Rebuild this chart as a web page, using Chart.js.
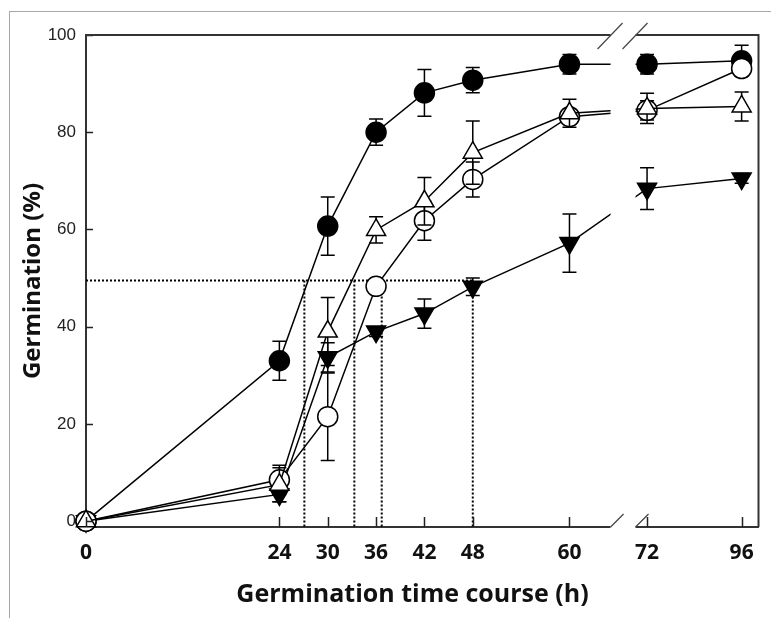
<!DOCTYPE html>
<html>
<head>
<meta charset="utf-8">
<script src="https://cdn.jsdelivr.net/npm/chart.js@4.4.0/dist/chart.umd.min.js"></script>
<style>
  html, body { margin: 0; padding: 0; background: #fff; }
  #wrap { position: relative; width: 771px; height: 618px; overflow: hidden; }
  #frame { position: absolute; left: 9px; top: 11px; width: 800px; height: 700px;
           border-left: 1px solid #a8a8a8; border-top: 1px solid #a8a8a8; }
  #germChart { position: absolute; left: 0; top: 0; }
</style>
</head>
<body>
<div id="wrap">
  <div id="frame"></div>
  <canvas id="germChart" width="771" height="618"></canvas>
</div>
<script>
// sampling times (h) and tick labels
const hours = [0, 24, 30, 36, 42, 48, 60, 72, 96];
const tickHours = [0, 24, 30, 36, 42, 48, 60, 72, 96];
const tickLabels = ['0', '24', '30', '36', '42', '48', '60', '72', '96'];
const yTicks = [0, 20, 40, 60, 80, 100];

// germination (%) and error bars, one pair per marker type
const filledCircle = [0, 33, 60.7, 80, 88.1, 90.7, 94, 94, 94.7];
const filledCircleErr = [0, 4, 6, 2.7, 4.8, 2.6, 2, 2, 3.2];
const openCircle = [0, 8.5, 21.5, 48.3, 61.8, 70.3, 83.2, 84.5, 93.1];
const openCircleErr = [0, 3, 9, 1, 4, 3.6, 1.5, 2, 1];
const openTriangle = [0, 7.5, 39, 59.9, 65.8, 75.8, 83.9, 84.9, 85.3];
const openTriangleErr = [0, 3.5, 7, 2.7, 4.9, 6.5, 2.9, 3.1, 3];
const filledTriangle = [0, 5.5, 33.7, 39, 42.7, 48.2, 57.2, 68.4, 70.5];
const filledTriangleErr = [0, 1.5, 3, 1, 3, 1.8, 6, 4.3, 1];

// 50% germination reference lines
const halfLevel = 49.5;
const halfHours = [27.1, 33.3, 36.7, 48];

// broken x axis: 0-64 h linear, then 72-96 h compressed
function toAxis(h) {
    return h <= 64 ? h : 69.63 + (h - 72) * 0.489;
}
const xMax = 83.46;
const yMin = -1.2;
const gapFrom = 65.1, gapTo = 68.2;

function pts(values) {
    return hours.map((h, i) => ({ x: toAxis(h), y: values[i] }));
}

function series(values, errors, style, fill, radius, rotation) {
    return {
        data: pts(values),
        errors: errors,
        borderColor: '#000',
        borderWidth: 1.5,
        pointStyle: style,
        pointRotation: rotation || 0,
        pointRadius: radius,
        pointBackgroundColor: fill,
        pointBorderColor: '#000',
        pointBorderWidth: 1.5,
        tension: 0,
        clip: false
    };
}

function dotted(data) {
    return {
        data: data,
        borderColor: '#000',
        borderWidth: 2,
        borderDash: [2, 2],
        pointRadius: 0,
        tension: 0,
        clip: false
    };
}

const datasets = [
    series(openTriangle, openTriangleErr, 'triangle', '#fff', 11),
    series(openCircle, openCircleErr, 'circle', '#fff', 10),
    series(filledCircle, filledCircleErr, 'circle', '#000', 10),
    series(filledTriangle, filledTriangleErr, 'triangle', '#000', 11, 180),
    dotted([{ x: 0, y: halfLevel }, { x: halfHours[halfHours.length - 1], y: halfLevel }])
];
halfHours.forEach(h => {
    datasets.push(dotted([{ x: h, y: halfLevel }, { x: h, y: yMin }]));
});

// error bars under each dataset's own markers
const errorBars = {
    id: 'errorBars',
    beforeDatasetDraw(chart, args) {
        const ds = chart.data.datasets[args.index];
        if (!ds.errors) return;
        const y = chart.scales.y;
        const c = chart.ctx;
        const meta = chart.getDatasetMeta(args.index);
        c.save();
        c.strokeStyle = '#000';
        c.lineWidth = 1.5;
        meta.data.forEach((p, i) => {
            const e = ds.errors[i];
            if (!e) return;
            const top = y.getPixelForValue(ds.data[i].y + e);
            const bot = y.getPixelForValue(ds.data[i].y - e);
            c.beginPath();
            c.moveTo(p.x, top); c.lineTo(p.x, bot);
            c.moveTo(p.x - 7, top); c.lineTo(p.x + 7, top);
            c.moveTo(p.x - 7, bot); c.lineTo(p.x + 7, bot);
            c.stroke();
        });
        c.restore();
    }
};

// inward ticks, top/right frame, axis break gap and break marks
const brokenAxis = {
    id: 'brokenAxis',
    afterDatasetsDraw(chart) {
        const a = chart.chartArea;
        const c = chart.ctx;
        const x = chart.scales.x;
        const y = chart.scales.y;
        c.save();
        c.strokeStyle = '#222';
        c.lineWidth = 1.5;
        c.beginPath();
        x.ticks.forEach(t => {
            const px = Math.round(x.getPixelForValue(t.value)) + 0.5;
            c.moveTo(px, a.bottom); c.lineTo(px, a.bottom - 10);
        });
        y.ticks.forEach(t => {
            const py = Math.round(y.getPixelForValue(t.value)) + 0.5;
            c.moveTo(a.left, py); c.lineTo(a.left + 7, py);
        });
        c.stroke();

        c.strokeStyle = '#333';
        c.lineWidth = 2;
        c.beginPath();
        c.moveTo(a.left, a.top); c.lineTo(a.right, a.top); c.lineTo(a.right, a.bottom);
        c.stroke();

        const g1 = x.getPixelForValue(gapFrom);
        const g2 = x.getPixelForValue(gapTo);
        c.fillStyle = '#fff';
        c.fillRect(g1, a.top - 2, g2 - g1, a.bottom - a.top + 4);

        c.lineWidth = 1.2;
        c.strokeStyle = '#444';
        c.beginPath();
        [g1, g2].forEach(gx => {
            c.moveTo(gx - 13, a.top + 14); c.lineTo(gx + 12, a.top - 12);
            c.moveTo(gx, a.bottom); c.lineTo(gx + 13, a.bottom - 13);
        });
        c.stroke();
        c.restore();
    }
};

const ctx = document.getElementById('germChart').getContext('2d');

const config = {
    type: 'line',
    data: { datasets: datasets },
    options: {
        responsive: false,
        animation: false,
        layout: { padding: { top: 35, right: 9, left: 0, bottom: 0 } },
        plugins: {
            legend: { display: false },
            tooltip: { enabled: false }
        },
        scales: {
            x: {
                type: 'linear',
                min: 0,
                max: xMax,
                afterBuildTicks: s => { s.ticks = tickHours.map(h => ({ value: toAxis(h) })); },
                afterFit: s => { s.height = 91; s.paddingLeft = 0; s.paddingRight = 0; },
                ticks: {
                    autoSkip: false,
                    maxRotation: 0,
                    padding: 13,
                    color: '#111',
                    font: { family: 'Open Sans', size: 21, weight: 'bold' },
                    callback: (v, i) => tickLabels[i]
                },
                grid: { drawOnChartArea: false, drawTicks: false },
                border: { display: true, color: '#333', width: 2 },
                title: {
                    display: true,
                    text: 'Germination time course (h)   ',
                    color: '#111',
                    font: { family: 'Open Sans', size: 25, weight: 'bold' },
                    padding: { top: 0, bottom: 8 }
                }
            },
            y: {
                min: yMin,
                max: 100,
                afterBuildTicks: s => { s.ticks = yTicks.map(v => ({ value: v })); },
                afterFit: s => { s.width = 86; s.paddingTop = 0; s.paddingBottom = 0; },
                ticks: {
                    padding: 10,
                    color: '#222',
                    font: { family: 'Liberation Sans', size: 17 }
                },
                grid: { drawOnChartArea: false, drawTicks: false },
                border: { display: true, color: '#333', width: 2 },
                title: {
                    display: true,
                    text: 'Germination (%)',
                    color: '#111',
                    font: { family: 'Open Sans', size: 24, weight: 'bold' },
                    padding: { top: 19, bottom: 0 }
                }
            }
        }
    },
    plugins: [errorBars, brokenAxis]
};

const germChart = new Chart(ctx, config);
</script>
</body>
</html>
